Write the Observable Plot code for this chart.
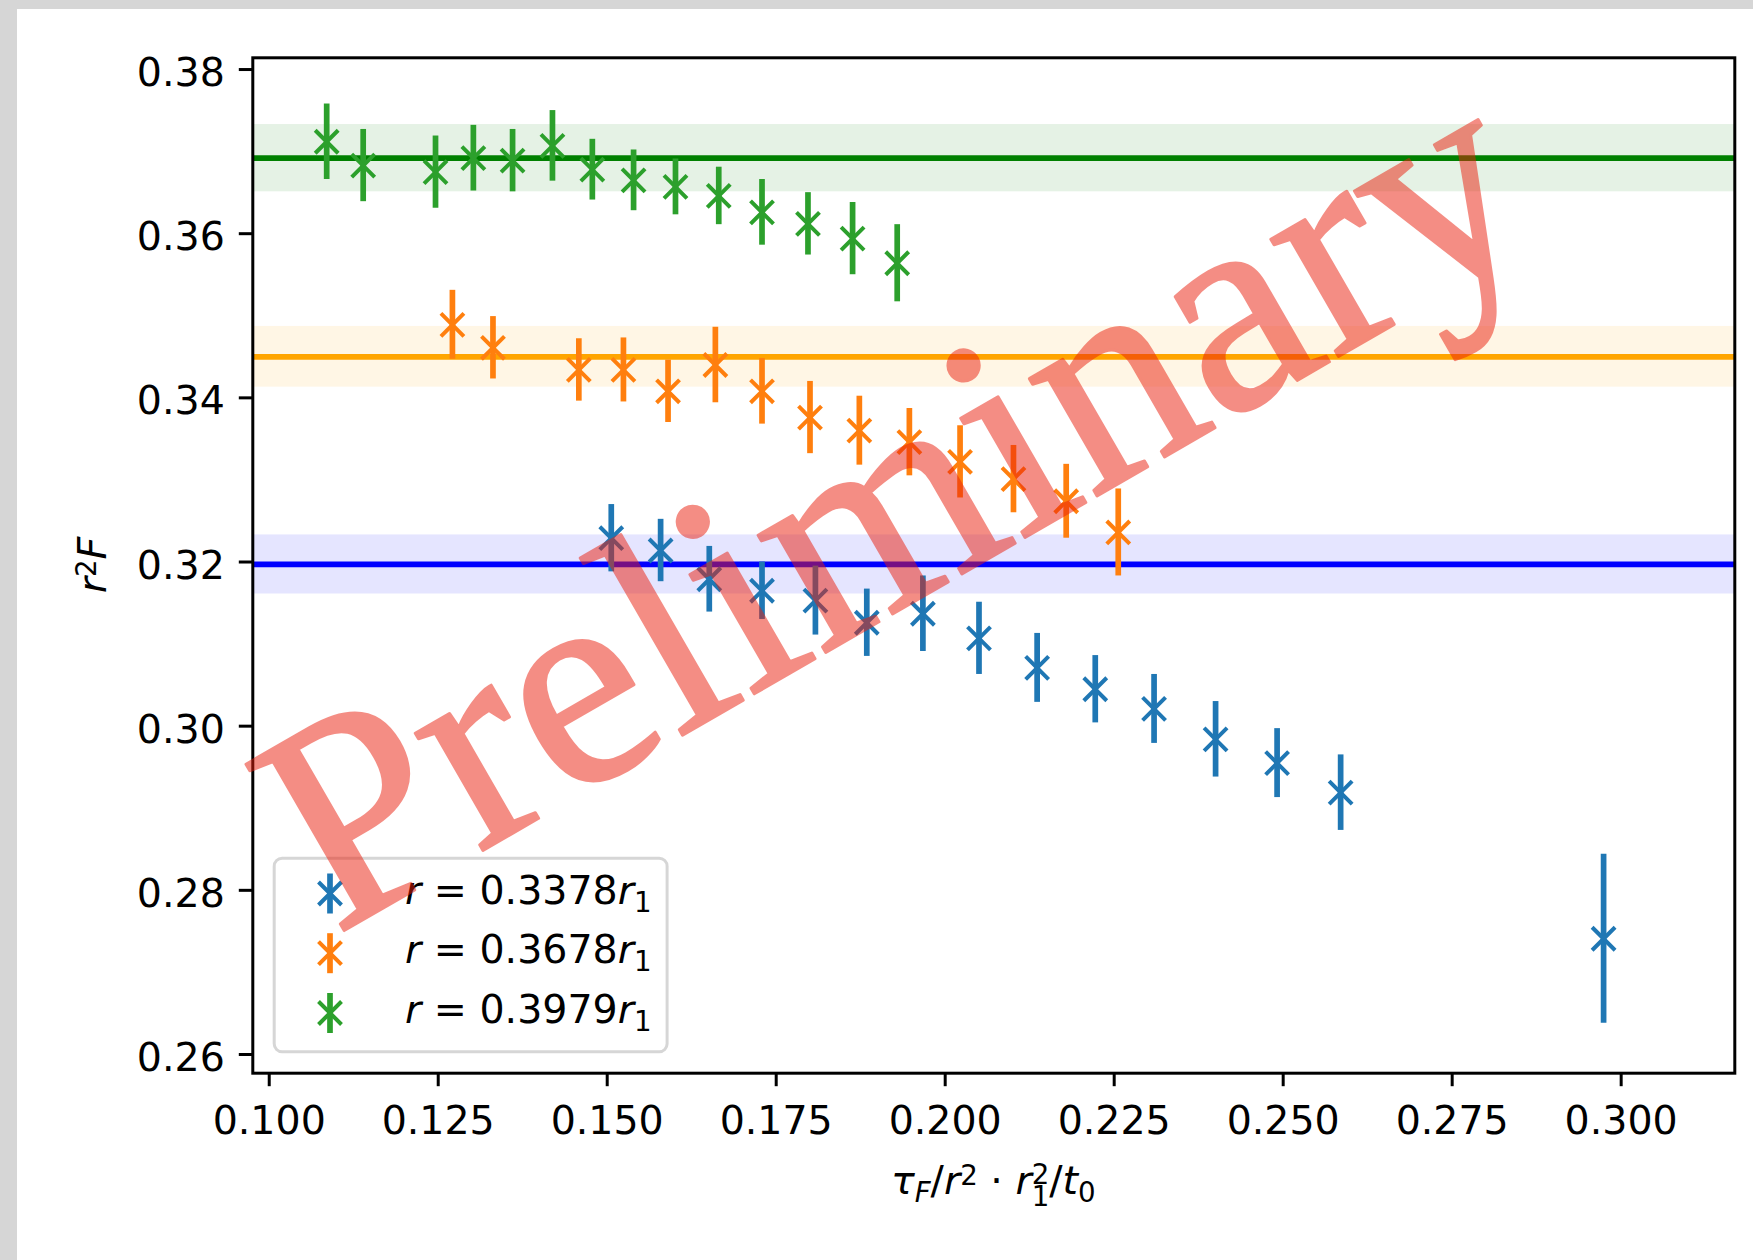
<!DOCTYPE html>
<html>
<head>
<meta charset="utf-8">
<script src="https://cdn.jsdelivr.net/npm/d3@7"></script>
<script src="https://cdn.jsdelivr.net/npm/@observablehq/plot@0.6"></script>
<style>
  html, body { margin: 0; padding: 0; background: #d6d6d6; }
  #page { position: absolute; left: 17px; top: 9px; width: 1736px; height: 1251px; background: #ffffff; }
</style>
</head>
<body>
<div id="page"></div>
<script>
// ---- tick positions ----
const xTicks = [0.100, 0.125, 0.150, 0.175, 0.200, 0.225, 0.250, 0.275, 0.300];
const yTicks = [0.26, 0.28, 0.30, 0.32, 0.34, 0.36, 0.38];

// ---- r = 0.3378 r1 ----
const blueX   = [0.1506, 0.1579, 0.1651, 0.1729, 0.1808, 0.1884, 0.1967, 0.2050, 0.2136, 0.2222, 0.2309, 0.2400, 0.2491, 0.2585, 0.2974];
const blueY   = [0.3229, 0.3214, 0.3179, 0.3165, 0.3153, 0.3126, 0.3137, 0.3107, 0.3071, 0.3045, 0.3021, 0.2984, 0.2955, 0.2919, 0.2741];
const blueErr = [0.0041, 0.0038, 0.0040, 0.0035, 0.0042, 0.0041, 0.0046, 0.0044, 0.0042, 0.0041, 0.0042, 0.0046, 0.0042, 0.0046, 0.0103];

// ---- r = 0.3678 r1 ----
const orangeX   = [0.1271, 0.1331, 0.1458, 0.1524, 0.1590, 0.1660, 0.1729, 0.1800, 0.1873, 0.1947, 0.2022, 0.2101, 0.2179, 0.2256];
const orangeY   = [0.3489, 0.3461, 0.3434, 0.3434, 0.3408, 0.3440, 0.3408, 0.3376, 0.3360, 0.3346, 0.3322, 0.3301, 0.3274, 0.3236];
const orangeErr = [0.0042, 0.0038, 0.0038, 0.0039, 0.0038, 0.0046, 0.0040, 0.0044, 0.0042, 0.0041, 0.0044, 0.0041, 0.0045, 0.0053];

// ---- r = 0.3979 r1 ----
const greenX   = [0.1085, 0.1139, 0.1246, 0.1302, 0.1360, 0.1419, 0.1478, 0.1539, 0.1601, 0.1665, 0.1729, 0.1797, 0.1863, 0.1929];
const greenY   = [0.3712, 0.3683, 0.3675, 0.3692, 0.3689, 0.3707, 0.3678, 0.3665, 0.3657, 0.3646, 0.3626, 0.3612, 0.3594, 0.3564];
const greenErr = [0.0046, 0.0044, 0.0044, 0.0040, 0.0038, 0.0043, 0.0037, 0.0037, 0.0034, 0.0035, 0.0040, 0.0038, 0.0044, 0.0047];

// ---- constant fits (value and error band half-width) ----
const fitY   = [0.3197, 0.3450, 0.3692];
const fitErr = [0.0036, 0.0037, 0.0041];

// ---- legend labels and colours ----
const radii       = ["0.3378", "0.3678", "0.3979"];
const pointColors = ["#1f77b4", "#ff7f0e", "#2ca02c"];
const fitColors   = ["blue", "orange", "green"];

const series = [
  {xs: blueX,   ys: blueY,   es: blueErr},
  {xs: orangeX, ys: orangeY, es: orangeErr},
  {xs: greenX,  ys: greenY,  es: greenErr}
];
const points = series.flatMap((s, k) =>
  s.xs.map((x, i) => ({x, y: s.ys[i], e: s.es[i], color: pointColors[k]})));
const fits = fitY.map((y, k) => ({y, e: fitErr[k], color: fitColors[k]}));

const FS = 39.5;          // 10pt text
const W = 1736, H = 1251;
const mL = 235.3, mT = 48.3, mR = 18.7, mB = 187.3;
const NB = "\u00a0";      // non-breaking space

const chart = Plot.plot({
  width: W, height: H,
  marginLeft: mL, marginTop: mT, marginRight: mR, marginBottom: mB,
  x: {domain: [0.09757, 0.31681]},
  y: {domain: [0.25772, 0.38143]},
  color: {type: "identity"},
  style: {fontFamily: "'DejaVu Sans', sans-serif", fontSize: FS + "px", color: "black", background: "white", overflow: "visible"},
  marks: [
    // error bands of the fits
    Plot.rect(fits, {y1: d => d.y - d.e, y2: d => d.y + d.e, fill: "color", fillOpacity: 0.1}),
    // fitted constants
    Plot.ruleY(fits, {y: "y", stroke: "color", strokeWidth: 5.7}),
    // data error bars
    Plot.ruleX(points, {x: "x", y1: d => d.y - d.e, y2: d => d.y + d.e, stroke: "color", strokeWidth: 5.7}),
    // data markers
    Plot.dot(points, {x: "x", y: "y", symbol: "times", r: 10.5, stroke: "color", strokeWidth: 4}),
    // axes: tick marks
    Plot.axisX({ticks: xTicks, tickSize: 13.5, strokeWidth: 3, fill: "none", label: null}),
    Plot.axisY({ticks: yTicks, tickSize: 13.5, strokeWidth: 3, fill: "none", label: null}),
    // axes: tick labels
    Plot.axisX({ticks: xTicks, tickSize: 0, tickPadding: 32.3, tickFormat: d => d.toFixed(3), fontSize: FS, label: null}),
    Plot.axisY({ticks: yTicks, tickSize: 0, tickPadding: 28, tickFormat: d => d.toFixed(2), fontSize: FS, dy: 4, label: null}),
    Plot.frame({stroke: "black", strokeWidth: 3})
  ]
});

document.getElementById("page").appendChild(chart);
const svg = d3.select(chart);

// math-style text made of tspans: italic parts, sub/superscripts
// (shift = baseline offset in px, positive downwards)
function mathText(sel, parts) {
  let cur = 0;
  parts.forEach(p => {
    const target = p.shift || 0;
    const t = sel.append("tspan")
      .attr("dy", target - cur)
      .attr("font-style", p.it ? "italic" : "normal")
      .attr("font-size", target !== 0 ? FS * 0.7 : FS)
      .text(p.t);
    if (p.dx) t.attr("dx", p.dx);
    cur = target;
  });
}
const SUB = 8, SUP = -9.5;

// x label
const xl = svg.append("text")
  .attr("x", mL + (W - mL - mR) / 2)
  .attr("y", 1185)
  .attr("text-anchor", "middle")
  .attr("font-family", "'DejaVu Sans', sans-serif")
  .attr("font-size", FS);
mathText(xl, [
  {t: "τ", it: true}, {t: "F", it: true, shift: SUB}, {t: "/"}, {t: "r", it: true}, {t: "2", shift: SUP},
  {t: NB + "·" + NB}, {t: "r", it: true}, {t: "2", shift: -10}, {t: "1", shift: 11.5, dx: -FS * 0.7 * 0.636},
  {t: "/"}, {t: "t", it: true}, {t: "0", shift: SUB}
]);

// y label
const yl = svg.append("text")
  .attr("transform", `translate(88.5,${mT + (H - mT - mB) / 2}) rotate(-90)`)
  .attr("text-anchor", "middle")
  .attr("font-family", "'DejaVu Sans', sans-serif")
  .attr("font-size", FS);
mathText(yl, [{t: "r", it: true}, {t: "2", shift: SUP}, {t: "F", it: true}]);

// legend (lower left of the axes)
const lg = svg.append("g");
const bx = mL + 20.4, by = H - mB - 19.4 - 196.6;
lg.append("rect")
  .attr("x", bx + 1.5).attr("y", by + 1.5)
  .attr("width", 395.9 - 3).attr("height", 196.6 - 3)
  .attr("rx", 8)
  .attr("fill", "white").attr("fill-opacity", 0.8)
  .attr("stroke", "#cccccc").attr("stroke-opacity", 0.8).attr("stroke-width", 3);
const rowY = [884.5, 944.2, 1004];
const arm = 11.5;
radii.forEach((rv, k) => {
  const cx = 313, cy = rowY[k];
  lg.append("line").attr("x1", cx).attr("x2", cx).attr("y1", cy - 20).attr("y2", cy + 20)
    .attr("stroke", pointColors[k]).attr("stroke-width", 5.7);
  lg.append("path").attr("d", `M${cx - arm},${cy - arm}L${cx + arm},${cy + arm}M${cx - arm},${cy + arm}L${cx + arm},${cy - arm}`)
    .attr("stroke", pointColors[k]).attr("stroke-width", 4).attr("fill", "none");
  const t = lg.append("text")
    .attr("x", 388).attr("y", cy + 10)
    .attr("text-anchor", "start")
    .attr("font-family", "'DejaVu Sans', sans-serif")
    .attr("font-size", FS);
  mathText(t, [{t: "r", it: true}, {t: NB + "=" + NB + rv}, {t: "r", it: true}, {t: "1", shift: SUB}]);
});

// watermark (semi-transparent, drawn over everything)
svg.append("g")
  .attr("opacity", 0.5)
  .append("text")
  .attr("transform", "translate(924,577) rotate(-30)")
  .attr("text-anchor", "middle")
  .attr("font-family", "'Liberation Serif', serif")
  .attr("font-size", 295)
  .attr("textLength", 1399)
  .attr("lengthAdjust", "spacing")
  .attr("fill", "#ea1e0c")
  .attr("stroke", "#ea1e0c")
  .attr("stroke-width", 3)
  .attr("stroke-linejoin", "round")
  .text("Preliminary");
</script>
</body>
</html>
